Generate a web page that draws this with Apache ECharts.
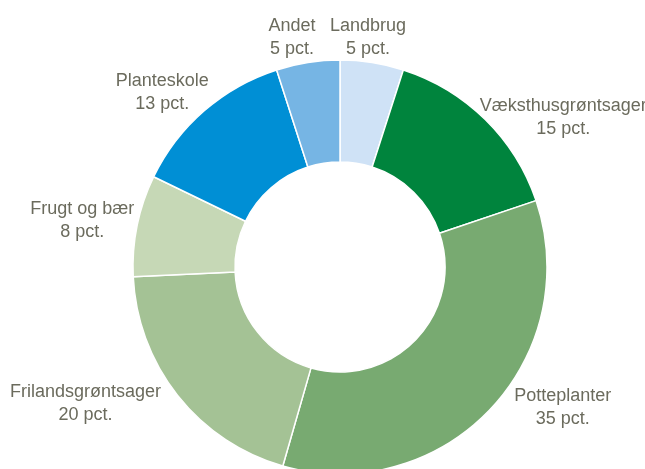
<!DOCTYPE html>
<html>
<head>
<meta charset="utf-8">
<script src="https://cdn.jsdelivr.net/npm/echarts@6/dist/echarts.min.js"></script>
<style>
html,body{margin:0;padding:0;background:#fff;}
#chart{width:645px;height:469px;}
</style>
</head>
<body>
<div id="chart"></div>
<script>
const categories = ['Landbrug', 'Væksthusgrøntsager', 'Potteplanter', 'Frilandsgrøntsager', 'Frugt og bær', 'Planteskole', 'Andet'];
const values = [5, 15, 35, 20, 8, 13, 5];
const unitLabel = 'pct.';

const colors = ['#cfe2f6', '#00843d', '#78aa71', '#a4c295', '#c6d8b6', '#008fd5', '#76b5e4'];
// label nudges (px) relative to outer edge point at each slice's mid-angle
const labelNudge = [[-4, -25], [78, -2], [73, -2], [-92, 8], [-55, -5], [-42, -18], [-16, -25]];

const chart = echarts.init(document.getElementById('chart'), null, {renderer: 'canvas'});
chart.setOption({
  animation: false,
  backgroundColor: '#ffffff',
  series: [{
    type: 'pie',
    center: [340, 267],
    radius: [105, 207],
    startAngle: 90,
    clockwise: true,
    avoidLabelOverlap: false,
    silent: true,
    itemStyle: {borderColor: '#ffffff', borderWidth: 1.5},
    label: {
      show: true,
      position: 'outside',
      formatter: function (p) { return p.name + '\n' + p.value + ' ' + unitLabel; },
      color: '#6b6b5d',
      fontFamily: "'Liberation Sans Narrow', 'Arial Narrow', 'Liberation Sans', sans-serif",
      fontSize: 18,
      lineHeight: 23,
      align: 'center'
    },
    labelLine: {show: true, length: 10, length2: 10, lineStyle: {opacity: 0}},
    labelLayout: function (p) {
      const pts = p.labelLinePoints;
      const n = labelNudge[p.dataIndex];
      const a = pts[0];
      return {x: a[0] + n[0], y: a[1] + n[1], align: 'center', verticalAlign: 'middle'};
    },
    data: categories.map((c, i) => ({name: c, value: values[i], itemStyle: {color: colors[i]}}))
  }]
});
</script>
</body>
</html>
